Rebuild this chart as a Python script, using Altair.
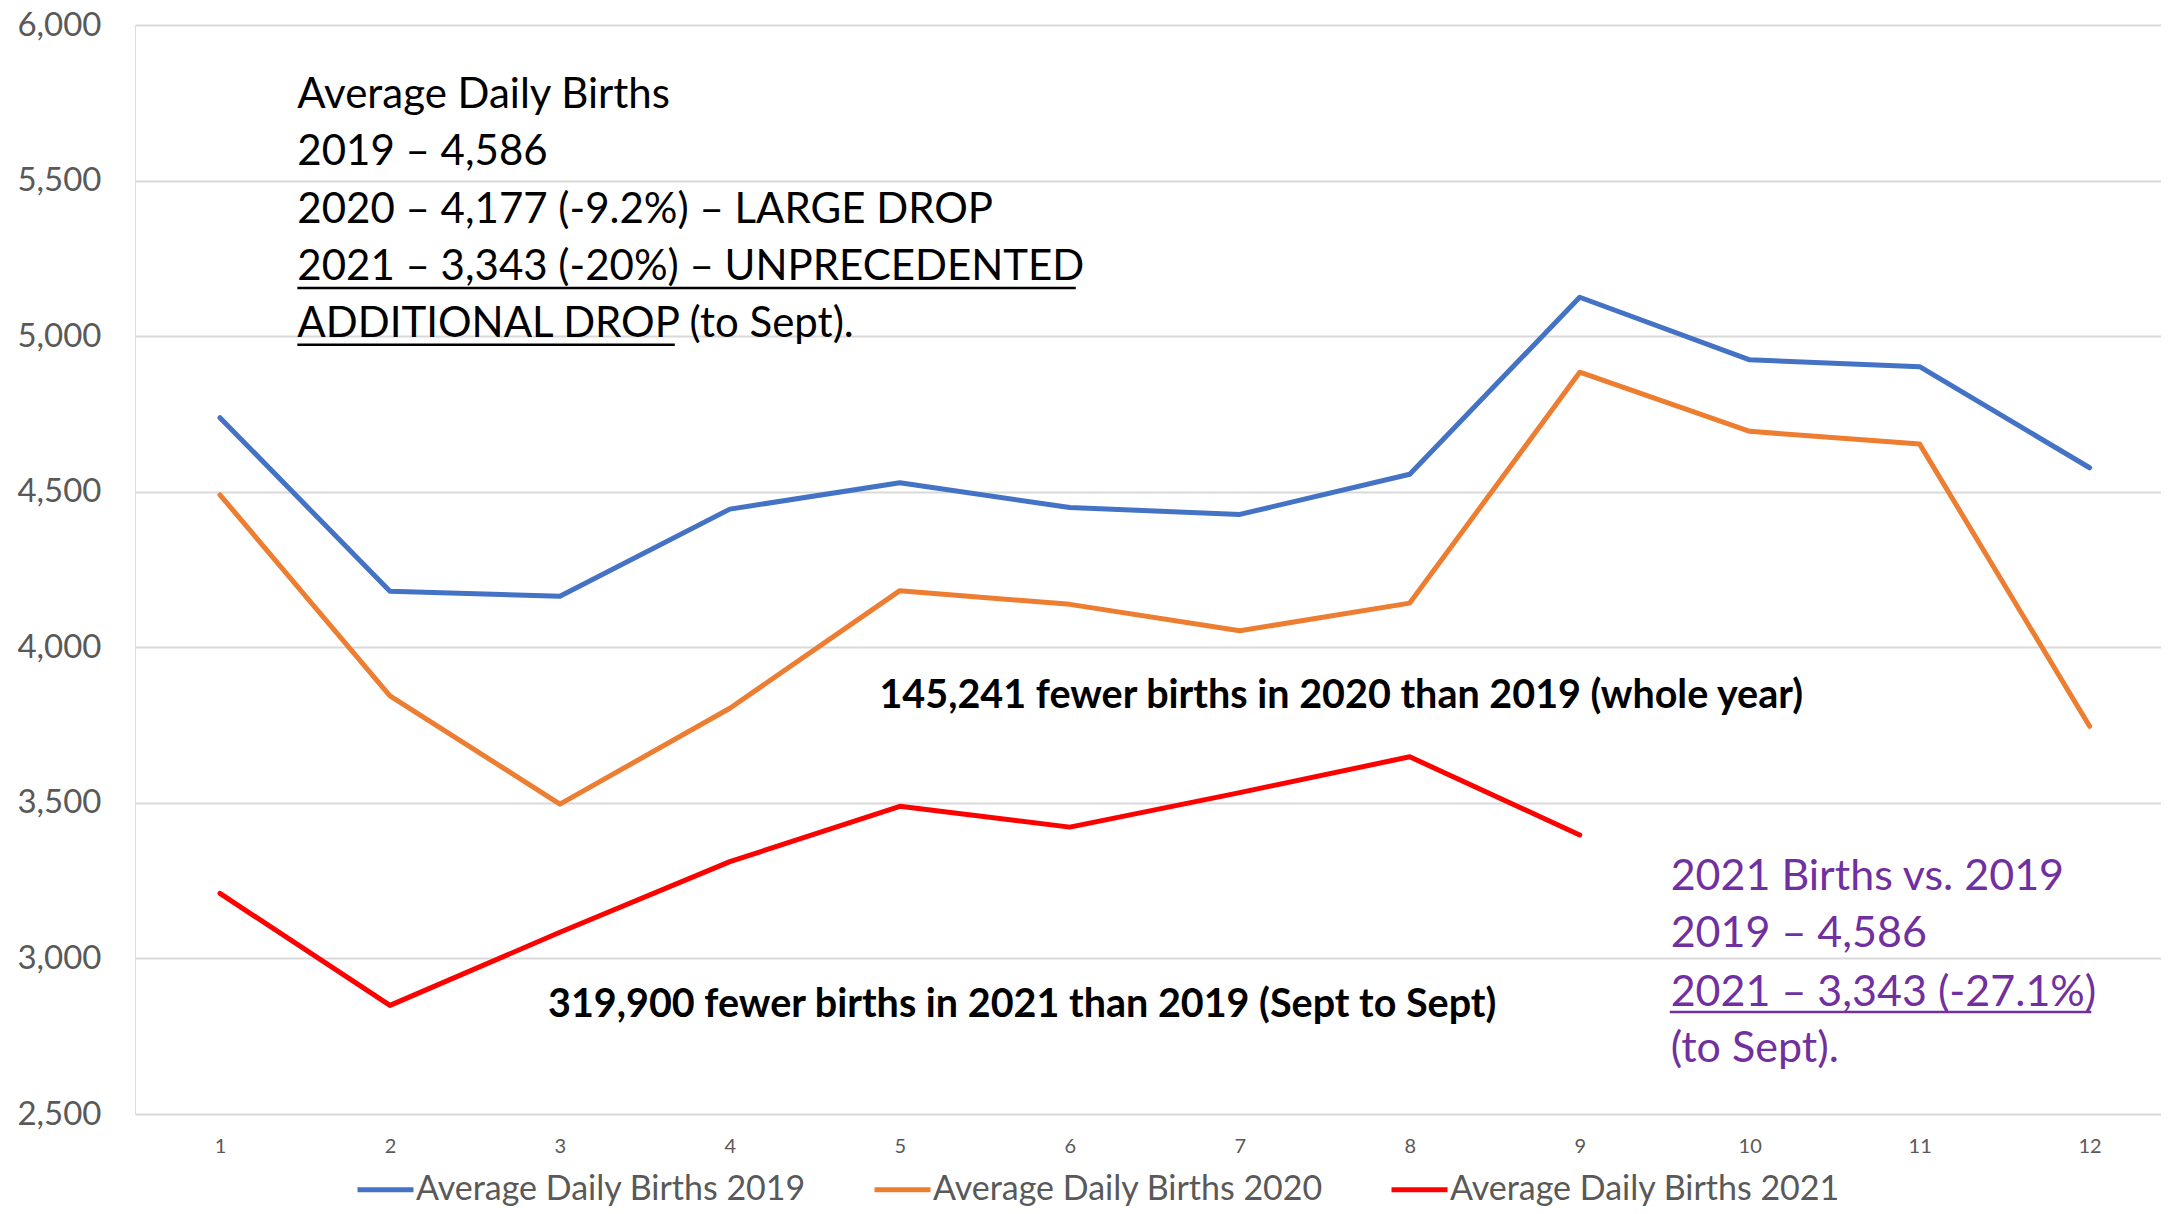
import altair as alt
import pandas as pd

# ---------------- data ----------------
months = list(range(1, 13))
births_2019 = [4738, 4180, 4164, 4444, 4529, 4449, 4427, 4556, 5125, 4924, 4902, 4577]
births_2020 = [4490, 3844, 3496, 3804, 4182, 4138, 4053, 4142, 4884, 4694, 4653, 3746]
births_2021 = [3209, 2849, 3084, 3311, 3489, 3422, 3533, 3648, 3397]
series_names = ["Average Daily Births 2019", "Average Daily Births 2020", "Average Daily Births 2021"]
series_colors = ["#4472C4", "#ED7D31", "#FF0000"]
y_ticks = [2500, 3000, 3500, 4000, 4500, 5000, 5500, 6000]

# annotation texts (positions in data units: month, births)
block_lines = ["Average Daily Births", "2019 \u2013 4,586", "2020 \u2013 4,177 (-9.2%) \u2013 LARGE DROP",
               "2021 \u2013 3,343 (-20%) \u2013 UNPRECEDENTED", "ADDITIONAL DROP (to Sept)."]
block_x = [1.455] * 5
block_y = [5733, 5550, 5364, 5180, 4997]

bold_lines = ["145,241 fewer births in 2020 than 2019 (whole year)",
              "319,900 fewer births in 2021 than 2019 (Sept to Sept)"]
bold_x = [4.88, 2.93]
bold_y = [3805, 2812]

purple_lines = ["2021 Births vs. 2019", "2019 \u2013 4,586", "2021 \u2013 3,343 (-27.1%)", "(to Sept)."]
purple_x = [9.535] * 4
purple_y = [3220, 3037, 2847, 2667]

# underlines (x start, x end, y)
ul_black_x = [1.455, 1.455]
ul_black_x2 = [6.035, 3.676]
ul_black_y = [5155, 4972]
ul_purple_x = [9.53]
ul_purple_x2 = [12.01]
ul_purple_y = [2828]

# ---------------- frames ----------------
rows = []
for name, vals in zip(series_names, [births_2019, births_2020, births_2021]):
    for m, v in zip(months, vals):
        rows.append({"month": m, "births": v, "series": name})
df = pd.DataFrame(rows)

df_block = pd.DataFrame({"x": block_x, "y": block_y, "t": block_lines})
df_bold = pd.DataFrame({"x": bold_x, "y": bold_y, "t": bold_lines})
df_purple = pd.DataFrame({"x": purple_x, "y": purple_y, "t": purple_lines})
df_ulb = pd.DataFrame({"x": ul_black_x, "x2": ul_black_x2, "y": ul_black_y})
df_ulp = pd.DataFrame({"x": ul_purple_x, "x2": ul_purple_x2, "y": ul_purple_y})

FONT = "Lato"
xscale = alt.Scale(domain=[0.5, 12.42], nice=False, zero=False)
yscale = alt.Scale(domain=[2500, 6000], nice=False, zero=False)

x_enc = alt.X("month:Q", scale=xscale, title=None,
              axis=alt.Axis(values=months, format="d", grid=False, domain=False, ticks=False,
                            labelFont=FONT, labelFontSize=20, labelColor="#595959", labelPadding=22))
y_enc = alt.Y("births:Q", scale=yscale, title=None,
              axis=alt.Axis(values=y_ticks, format=",.0f", grid=True, gridColor="#D9D9D9", gridWidth=2,
                            domain=False, ticks=False, labelFont=FONT, labelFontSize=33,
                            labelColor="#595959", labelPadding=34))

lines = alt.Chart(df).mark_line(strokeWidth=5, strokeCap="round", strokeJoin="round").encode(
    x=x_enc,
    y=y_enc,
    color=alt.Color("series:N", scale=alt.Scale(domain=series_names, range=series_colors),
                    legend=alt.Legend(title=None, orient="none", legendX=220, legendY=1134,
                                      direction="horizontal", symbolType="stroke",
                                      symbolStrokeWidth=5, symbolSize=3136,
                                      labelFont=FONT, labelFontSize=34, labelColor="#595959",
                                      labelLimit=800, labelOffset=0, columnPadding=57)),
)

def xq(field="x"):
    return alt.X(f"{field}:Q", scale=xscale)

def yq(field="y"):
    return alt.Y(f"{field}:Q", scale=yscale)

block = alt.Chart(df_block).mark_text(align="left", baseline="alphabetic", font=FONT,
                                      fontSize=42, color="#000000").encode(x=xq(), y=yq(), text="t:N")
bold = alt.Chart(df_bold).mark_text(align="left", baseline="alphabetic", font=FONT,
                                    fontSize=39.5, fontWeight="bold", color="#000000").encode(
    x=xq(), y=yq(), text="t:N")
purple = alt.Chart(df_purple).mark_text(align="left", baseline="alphabetic", font=FONT,
                                        fontSize=43, color="#7030A0").encode(x=xq(), y=yq(), text="t:N")
ulb = alt.Chart(df_ulb).mark_rule(strokeWidth=2.5, color="#000000").encode(
    x=xq(), x2="x2:Q", y=yq())
ulp = alt.Chart(df_ulp).mark_rule(strokeWidth=2.5, color="#7030A0").encode(
    x=xq(), x2="x2:Q", y=yq())

chart = alt.layer(lines, block, bold, purple, ulb, ulp).properties(
    width=2026, height=1089,
    padding={"left": 127, "top": 17, "right": 0, "bottom": 92},
    autosize=alt.AutoSizeParams(type="none"),
).configure_view(stroke=None).configure(background="white")

chart.save("out.html", embed_options={"renderer": "svg", "actions": False})
